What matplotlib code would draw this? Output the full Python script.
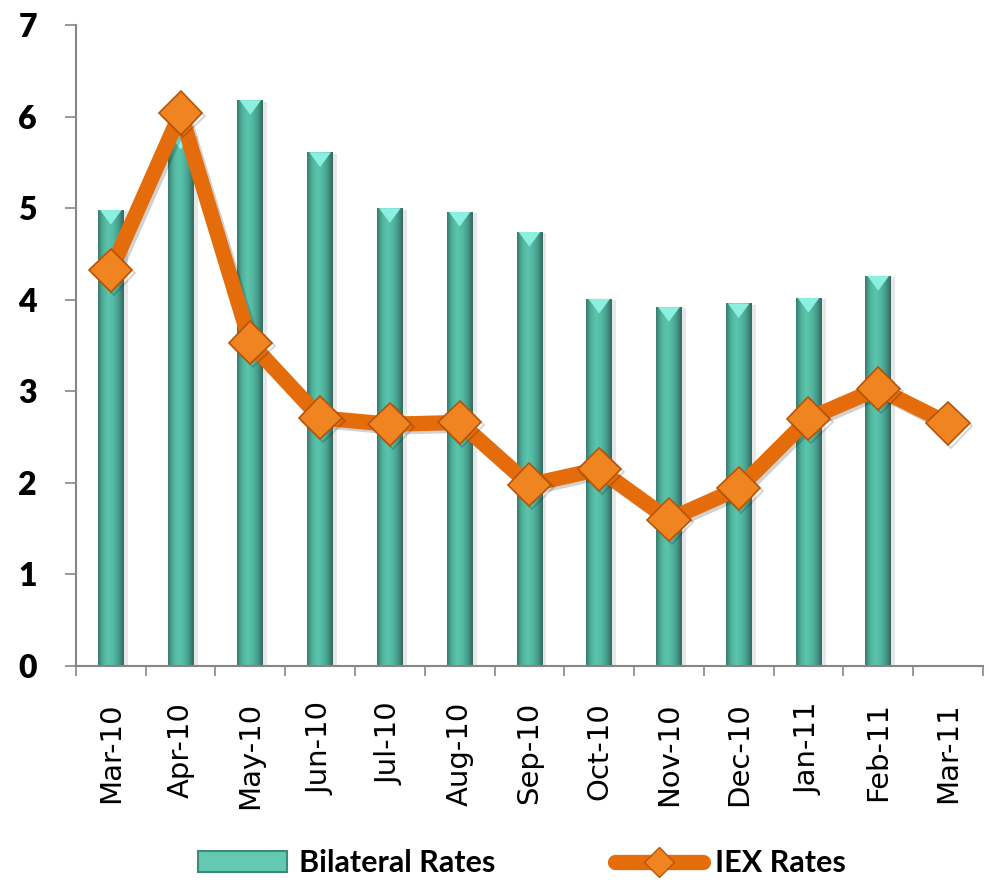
import numpy as np
import matplotlib
matplotlib.use("Agg")
import matplotlib.pyplot as plt
import matplotlib.patheffects as pe
from matplotlib.colors import LinearSegmentedColormap
from matplotlib.patches import Polygon, Patch
from matplotlib.lines import Line2D

plt.rcParams['font.family'] = ['Lato', 'DejaVu Sans']

# monthly rates
months = ['Mar-10', 'Apr-10', 'May-10', 'Jun-10', 'Jul-10', 'Aug-10', 'Sep-10',
          'Oct-10', 'Nov-10', 'Dec-10', 'Jan-11', 'Feb-11', 'Mar-11']
bilateral = [4.98, 5.80, 6.18, 5.61, 5.00, 4.96, 4.74, 4.01, 3.92, 3.96, 4.02, 4.26, None]
iex = [4.32, 6.04, 3.53, 2.71, 2.64, 2.66, 1.98, 2.15, 1.60, 1.94, 2.70, 3.03, 2.65]

teal = '#4FB39C'
orange = '#E46C0A'
bar_w = 0.37

fig = plt.figure(figsize=(9.89, 8.91), dpi=100)
ax = fig.add_axes([0.0768, 0.2525, 0.917, 0.7194])

x = np.arange(len(months))
bx = [i for i, v in enumerate(bilateral) if v is not None]
bv = [bilateral[i] for i in bx]

bars = ax.bar(bx, bv, width=bar_w, color=teal, zorder=2,
              path_effects=[pe.SimplePatchShadow(offset=(3, -1), shadow_rgbFace='#888888', alpha=0.2),
                            pe.Normal()])

# cylinder-ish shading on every bar
shade = LinearSegmentedColormap.from_list(
    'shade', ['#3A7C70', '#4FB39C', '#5DC5AD', '#53B9A2', '#469C8C', '#35695F'])
grad = np.linspace(0, 1, 64).reshape(1, -1)
for rect in bars:
    x0 = rect.get_x()
    h = rect.get_height()
    im = ax.imshow(grad, extent=[x0, x0 + bar_w, 0, h], cmap=shade,
                   aspect='auto', zorder=2.1, origin='lower')
    im.set_clip_path(rect)
    # light bevel on top
    cap = Polygon([[x0 + 0.03, h], [x0 + bar_w - 0.03, h], [x0 + bar_w / 2, h - 0.16]],
                  closed=True, facecolor='#8CF0E0', edgecolor='none', zorder=2.2)
    ax.add_patch(cap)

ax.plot(x, iex, color=orange, lw=11, marker='D', ms=22,
        mfc='#F08420', mec='#B4550A', mew=1.2, solid_joinstyle='round',
        solid_capstyle='round', zorder=3,
        path_effects=[pe.SimpleLineShadow(offset=(2, -2), alpha=0.18), pe.Normal()])

ax.set_xlim(-0.5, len(months) - 0.5)
ax.set_ylim(0, 7)
ax.set_yticks(range(8))
ax.set_yticklabels([str(v) for v in range(8)], fontsize=23, fontweight='heavy')

ax.set_xticks(x)
ax.set_xticklabels(months, rotation=90, fontsize=21, family='DejaVu Sans')
ax.set_xticks(np.arange(-0.5, len(months), 1), minor=True)
ax.tick_params(axis='x', which='major', length=0, pad=26)
ax.tick_params(axis='x', which='minor', length=7, color='#868686', width=1.2, direction='out')
ax.tick_params(axis='y', length=8, color='#868686', width=1.2, pad=20)

for side in ['top', 'right']:
    ax.spines[side].set_visible(False)
for side in ['left', 'bottom']:
    ax.spines[side].set_color('#868686')
    ax.spines[side].set_linewidth(1.5)

handles = [Patch(facecolor='#63C9B2', edgecolor='#3E8A7B', lw=1.5),
           Line2D([], [], color=orange, lw=11, marker='D', ms=15,
                  mfc='#F08420', mec='#B4550A', solid_capstyle='round')]
fig.legend(handles, ['Bilateral Rates', 'IEX Rates'], loc='center',
           bbox_to_anchor=(0.528, 0.031), ncol=2, frameon=False,
           prop={'size': 22, 'weight': 'bold'}, handlelength=2.9,
           handletextpad=0.4, columnspacing=3.9)

fig.savefig('out.png', dpi=100)
